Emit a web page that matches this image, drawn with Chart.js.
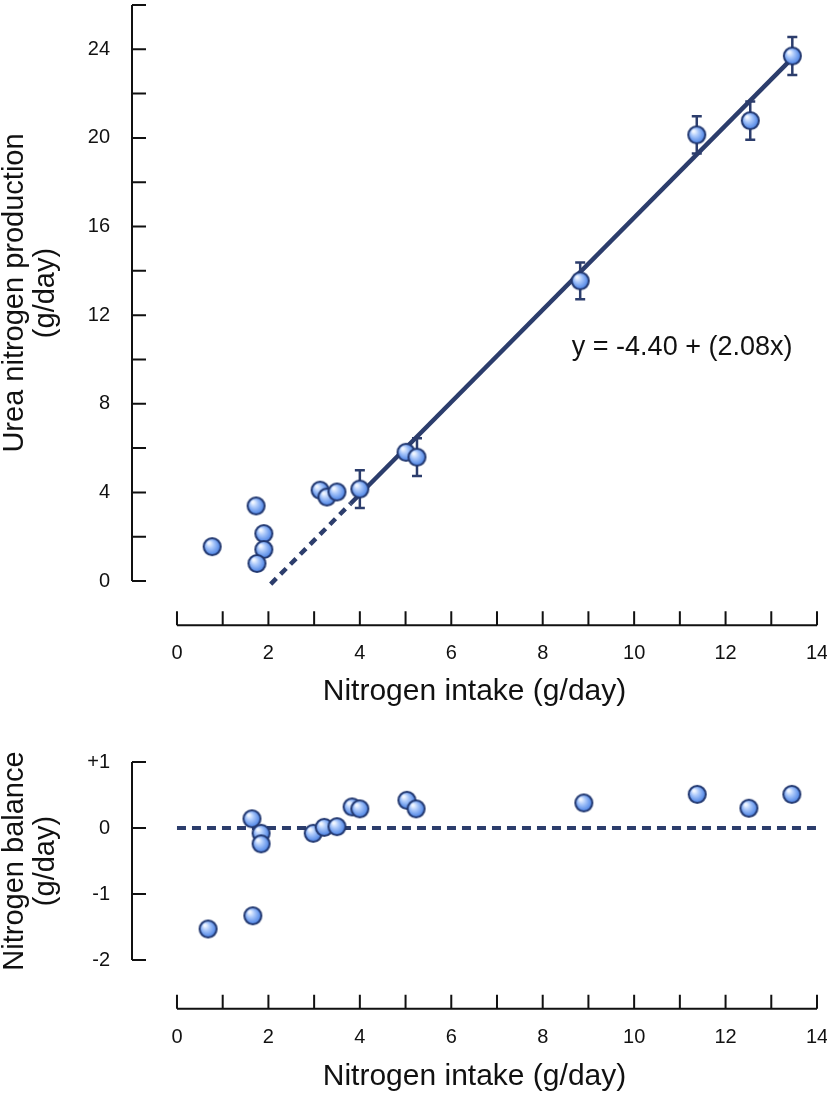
<!DOCTYPE html>
<html lang="en">
<head>
<meta charset="UTF-8">
<title>Urea nitrogen production and nitrogen balance</title>
<script src="https://cdn.jsdelivr.net/npm/chart.js"></script>
<style>
  body { margin: 0; background: #fff; }
  canvas { display: block; }
</style>
</head>
<body>
<canvas id="topChart" width="827" height="720"></canvas>
<canvas id="bottomChart" width="827" height="374"></canvas>
<script>
// upper panel: urea nitrogen production against nitrogen intake
const intakeTop = [0.77, 1.73, 1.90, 1.90, 1.75, 3.13, 3.28, 3.50, 4.00, 5.01, 5.25, 8.82, 11.37, 12.54, 13.46];
const ureaN     = [1.55, 3.39, 2.14, 1.42, 0.79, 4.10, 3.79, 4.02, 4.15, 5.81, 5.59, 13.55, 20.14, 20.78, 23.70];
const ureaErr   = [0, 0, 0, 0, 0, 0, 0, 0, 0.85, 0, 0.85, 0.83, 0.84, 0.86, 0.86];
const fitDashed = [[2.05, -0.14], [3.80, 3.50]];
const fitSolid  = [[3.80, 3.50], [13.46, 23.60]];
const equation  = 'y = -4.40 + (2.08x)';

// lower panel: nitrogen balance
const intakeBal = [0.68, 1.66, 1.64, 1.84, 1.84, 2.98, 3.22, 3.50, 3.83, 4.00, 5.03, 5.23, 8.90, 11.38, 12.51, 13.45];
const balance   = [-1.53, -1.33, 0.14, -0.08, -0.24, -0.08, 0.01, 0.02, 0.32, 0.29, 0.42, 0.29, 0.38, 0.51, 0.30, 0.51];
const zeroLine  = [[0, 0], [14, 0]];

// ticks
const xMarks = [0, 1, 2, 3, 4, 5, 6, 7, 8, 9, 10, 11, 12, 13, 14];
const xLabels = [0, 2, 4, 6, 8, 10, 12, 14];
const topYMarks = [0, 2, 4, 6, 8, 10, 12, 14, 16, 18, 20, 22, 24, 26];
const topYLabels = [0, 4, 8, 12, 16, 20, 24];
const balYMarks = [-2, -1, 0, 1];
const balYLabels = ['-2', '-1', '0', '+1'];

const NAVY = '#2c3d6c';
const FONT = "'Liberation Sans', Arial, Helvetica, sans-serif";

function makeSphere(r) {
  const c = document.createElement('canvas');
  const s = Math.ceil(r * 2 + 2);
  c.width = c.height = s;
  const g = c.getContext('2d');
  const cx = s / 2, cy = s / 2;
  const grad = g.createRadialGradient(cx - r * 0.35, cy - r * 0.4, r * 0.1, cx, cy, r);
  grad.addColorStop(0, '#f2f7ff');
  grad.addColorStop(0.35, '#a9c7fa');
  grad.addColorStop(0.8, '#5b8ee8');
  grad.addColorStop(1, '#4470cc');
  g.beginPath();
  g.arc(cx, cy, r - 1, 0, Math.PI * 2);
  g.fillStyle = grad;
  g.fill();
  g.lineWidth = 2;
  g.strokeStyle = '#223870';
  g.stroke();
  return c;
}
const sphere = makeSphere(9.5);

const toXY = pairs => pairs.map(p => ({ x: p[0], y: p[1] }));

// axes drawn by hand: detached x axis, inward ticks
const plainAxes = {
  id: 'plainAxes',
  afterDraw(chart, args, o) {
    const ctx = chart.ctx, xs = chart.scales.x, ys = chart.scales.y;
    const ax = chart.chartArea.left;
    ctx.save();
    ctx.strokeStyle = '#111';
    ctx.lineWidth = 2;
    ctx.beginPath();
    ctx.moveTo(ax, ys.getPixelForValue(o.yMarks[0]));
    ctx.lineTo(ax, ys.getPixelForValue(o.yMarks[o.yMarks.length - 1]));
    o.yMarks.forEach(v => {
      const p = ys.getPixelForValue(v);
      ctx.moveTo(ax, p);
      ctx.lineTo(ax + 14, p);
    });
    const ay = ys.getPixelForValue(o.xAxisAt);
    ctx.moveTo(xs.getPixelForValue(o.xMarks[0]), ay);
    ctx.lineTo(xs.getPixelForValue(o.xMarks[o.xMarks.length - 1]), ay);
    o.xMarks.forEach(v => {
      const p = xs.getPixelForValue(v);
      ctx.moveTo(p, ay);
      ctx.lineTo(p, ay - 14);
    });
    ctx.stroke();
    ctx.restore();
  }
};

const errorBars = {
  id: 'errorBars',
  beforeDatasetsDraw(chart, args, o) {
    if (!o.err) return;
    const ctx = chart.ctx, xs = chart.scales.x, ys = chart.scales.y;
    ctx.save();
    ctx.strokeStyle = NAVY;
    ctx.lineWidth = 2.5;
    ctx.beginPath();
    o.err.forEach((e, i) => {
      if (!e) return;
      const px = xs.getPixelForValue(o.x[i]);
      const top = ys.getPixelForValue(o.y[i] + e);
      const bot = ys.getPixelForValue(o.y[i] - e);
      ctx.moveTo(px, top); ctx.lineTo(px, bot);
      ctx.moveTo(px - 5, top); ctx.lineTo(px + 5, top);
      ctx.moveTo(px - 5, bot); ctx.lineTo(px + 5, bot);
    });
    ctx.stroke();
    ctx.restore();
  }
};

const noteText = {
  id: 'noteText',
  afterDatasetsDraw(chart, args, o) {
    if (!o.text) return;
    const ctx = chart.ctx;
    ctx.save();
    ctx.font = '27px ' + FONT;
    ctx.fillStyle = '#111';
    ctx.textAlign = 'center';
    ctx.textBaseline = 'middle';
    ctx.fillText(o.text, chart.scales.x.getPixelForValue(o.at[0]), chart.scales.y.getPixelForValue(o.at[1]));
    ctx.restore();
  }
};

// keep chart.js from reserving extra room for the tick labels
function noPadding(s) {
  s.paddingTop = 0;
  s.paddingBottom = 0;
  s.paddingLeft = 0;
  s.paddingRight = 0;
}

function axisX(height, labelPad, titlePad) {
  return {
    type: 'linear', min: -0.984, max: 14,
    grid: { display: false }, border: { display: false },
    afterBuildTicks: s => { s.ticks = xMarks.map(v => ({ value: v })); },
    afterFit: s => { s.height = height; noPadding(s); },
    ticks: {
      autoSkip: false, maxRotation: 0, padding: labelPad, color: '#111',
      font: { family: FONT, size: 20 },
      callback: v => xLabels.includes(v) ? String(v) : ''
    },
    title: {
      display: true, text: 'Nitrogen intake (g/day)', color: '#111',
      font: { family: FONT, size: 30, lineHeight: 1.1 },
      padding: { top: 0, bottom: titlePad }
    }
  };
}

function axisY(min, max, marks, labelFn, title) {
  return {
    type: 'linear', min: min, max: max,
    grid: { display: false }, border: { display: false },
    afterBuildTicks: s => { s.ticks = marks.map(v => ({ value: v })); },
    afterFit: s => { s.width = 132; noPadding(s); },
    ticks: {
      padding: 14, color: '#111',
      font: { family: FONT, size: 20 },
      callback: labelFn
    },
    title: {
      display: true, text: title, color: '#111',
      font: { family: FONT, size: 29, lineHeight: 1.05 },
      padding: { top: 0, bottom: 0 }
    }
  };
}

new Chart(document.getElementById('topChart'), {
  type: 'scatter',
  data: {
    datasets: [
      {
        data: intakeTop.map((x, i) => ({ x: x, y: ureaN[i] })),
        pointStyle: sphere, clip: false
      },
      {
        type: 'line', data: toXY(fitSolid), borderColor: NAVY, borderWidth: 4.5,
        pointRadius: 0, fill: false, clip: false
      },
      {
        type: 'line', data: toXY(fitDashed), borderColor: NAVY, borderWidth: 4.5,
        borderDash: [8, 6], pointRadius: 0, fill: false, clip: false
      }
    ]
  },
  options: {
    responsive: false, animation: false, events: [],
    layout: { padding: { top: 2, right: 10, left: 0, bottom: 0 } },
    plugins: {
      legend: { display: false }, tooltip: { enabled: false },
      plainAxes: { xMarks: xMarks, yMarks: topYMarks, xAxisAt: -2.0 },
      errorBars: { x: intakeTop, y: ureaN, err: ureaErr },
      noteText: { text: equation, at: [11.05, 10.55] }
    },
    scales: {
      x: axisX(139, 52, 12),
      y: axisY(0, 26, topYMarks, v => topYLabels.includes(v) ? String(v) : '',
        ['Urea nitrogen production', '(g/day)'])
    }
  },
  plugins: [plainAxes, errorBars, noteText]
});

new Chart(document.getElementById('bottomChart'), {
  type: 'scatter',
  data: {
    datasets: [
      {
        data: intakeBal.map((x, i) => ({ x: x, y: balance[i] })),
        pointStyle: sphere, clip: false
      },
      {
        type: 'line', data: toXY(zeroLine), borderColor: NAVY, borderWidth: 4,
        borderDash: [9, 6], pointRadius: 0, fill: false, clip: false
      }
    ]
  },
  options: {
    responsive: false, animation: false, events: [],
    layout: { padding: { top: 42, right: 10, left: 0, bottom: 0 } },
    plugins: {
      legend: { display: false }, tooltip: { enabled: false },
      plainAxes: { xMarks: xMarks, yMarks: balYMarks, xAxisAt: -2.74 }
    },
    scales: {
      x: axisX(134, 57, 1),
      y: axisY(-2, 1, balYMarks, v => balYLabels[balYMarks.indexOf(v)],
        ['Nitrogen balance', '(g/day)'])
    }
  },
  plugins: [plainAxes]
});
</script>
</body>
</html>
